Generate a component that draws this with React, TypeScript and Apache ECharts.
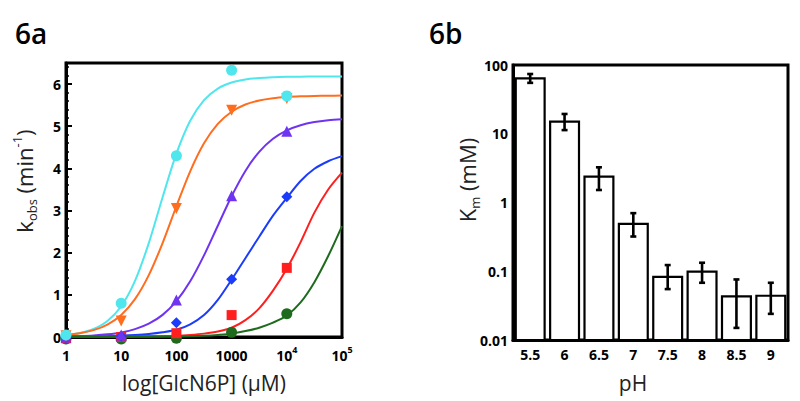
import { useEffect, useRef } from 'react';
import * as echarts from 'echarts';

// ---------- Panel 6a data ----------
const xTickValues = [1, 10, 100, 1000, 10000, 100000];
const xTickBase = ['1', '10', '100', '1000', '10', '10'];
const xTickSup = ['', '', '', '', '4', '5'];
const yTicksA = [0, 1, 2, 3, 4, 5, 6];

// x positions of the fitted curves (quarter decades)
const curveX = [1, 1.778, 3.162, 5.623, 10, 17.78, 31.62, 56.23, 100, 177.8, 316.2, 562.3, 1000, 1778, 3162, 5623, 10000, 17783, 31623, 56234, 100000];
const cyanCurve = [0.046, 0.094, 0.19, 0.378, 0.729, 1.332, 2.228, 3.316, 4.35, 5.13, 5.619, 5.894, 6.037, 6.11, 6.145, 6.163, 6.172, 6.176, 6.178, 6.179, 6.18];
const orangeCurve = [0.049, 0.089, 0.163, 0.295, 0.523, 0.898, 1.468, 2.229, 3.102, 3.93, 4.594, 5.054, 5.344, 5.515, 5.612, 5.666, 5.695, 5.711, 5.72, 5.724, 5.727];
const purpleCurve = [0.012, 0.021, 0.036, 0.063, 0.108, 0.186, 0.315, 0.525, 0.85, 1.321, 1.936, 2.64, 3.339, 3.94, 4.393, 4.703, 4.903, 5.025, 5.098, 5.141, 5.166];
const blueCurve = [0.005, 0.007, 0.01, 0.017, 0.028, 0.045, 0.07, 0.11, 0.17, 0.3, 0.52, 0.88, 1.36, 1.87, 2.38, 2.88, 3.3, 3.7, 3.99, 4.17, 4.29];
const redCurve = [0.001, 0.002, 0.003, 0.004, 0.006, 0.009, 0.013, 0.02, 0.03, 0.05, 0.08, 0.13, 0.22, 0.4, 0.68, 1.1, 1.62, 2.25, 2.95, 3.5, 3.9];
const greenCurve = [0, 0, 0.001, 0.002, 0.002, 0.003, 0.005, 0.007, 0.01, 0.018, 0.03, 0.05, 0.08, 0.14, 0.22, 0.34, 0.51, 0.82, 1.3, 1.92, 2.63];

// measured points
const pointX = [1, 10, 100, 1000, 10000];
const cyanPts = [0.05, 0.8, 4.3, 6.33, 5.72];
const orangePts = [0.03, 0.38, 3.05, 5.38, 5.66];
const purplePts = [0.0, 0.05, 0.88, 3.35, 4.88];
const bluePts = [-0.02, 0.02, 0.34, 1.37, 3.33];
const redPts = [-0.03, 0.0, 0.09, 0.52, 1.64];
const greenPts = [-0.05, -0.05, -0.03, 0.11, 0.55];

// ---------- Panel 6b data ----------
const phLabels = ['5.5', '6', '6.5', '7', '7.5', '8', '8.5', '9'];
const kmValues = [64, 15, 2.38, 0.49, 0.083, 0.099, 0.043, 0.044];
const kmLow = [55, 11.3, 1.52, 0.32, 0.055, 0.068, 0.015, 0.024];
const kmHigh = [74, 19.4, 3.25, 0.7, 0.123, 0.133, 0.076, 0.068];
const yTickLabelsB = ['0.01', '0.1', '1', '10', '100'];

const COLORS = {
  cyan: '#4fe6ee',
  orange: '#ff6d1f',
  purple: '#6f33f2',
  blue: '#1c3cfb',
  red: '#ff1f1f',
  green: '#1e6b1e',
};

const TICK_FONT = 'Open Sans';

function App() {
  const ref = useRef<HTMLDivElement>(null);

  useEffect(() => {
    if (!ref.current) return;
    const chart = echarts.init(ref.current, null, { renderer: 'svg' });

    const curve = (name: string, ys: number[], color: string) => ({
      name,
      type: 'line',
      xAxisIndex: 0,
      yAxisIndex: 0,
      data: curveX.map((x, i) => [x, ys[i]]),
      smooth: 0.3,
      showSymbol: false,
      symbol: 'none',
      lineStyle: { color, width: 2 },
      silent: true,
      z: 2,
    });

    const marks = (name: string, ys: number[], color: string, symbol: string, size: number, rotate = 0) => ({
      name,
      type: 'scatter',
      xAxisIndex: 0,
      yAxisIndex: 0,
      data: pointX.map((x, i) => [x, ys[i]]),
      symbol,
      symbolSize: size,
      symbolRotate: rotate,
      itemStyle: { color, opacity: 1 },
      clip: false,
      z: 3,
    });

    const supRich = {
      base: { fontFamily: TICK_FONT, fontWeight: 'bold', fontSize: 14, lineHeight: 20, verticalAlign: 'middle', color: '#000' },
      s: { fontFamily: TICK_FONT, fontWeight: 'bold', fontSize: 9, lineHeight: 9, verticalAlign: 'top', color: '#000' },
    };

    const option: any = {
      animation: false,
      backgroundColor: '#fff',
      grid: [
        { left: 66, top: 63, width: 276, height: 274, show: true, borderColor: '#000', borderWidth: 3, containLabel: false },
        { left: 513, top: 65, width: 275, height: 275, show: true, borderColor: '#000', borderWidth: 3, containLabel: false },
      ],
      xAxis: [
        {
          type: 'log',
          gridIndex: 0,
          logBase: 10,
          min: 1,
          max: 100000,
          axisLine: { show: true, lineStyle: { color: '#000', width: 3 } },
          axisTick: { show: false },
          splitLine: { show: false },
          axisLabel: {
            margin: 8,
            formatter: (v: number) => {
              const idx = xTickValues.findIndex((t) => Math.abs(Math.log10(t) - Math.log10(v)) < 1e-6);
              if (idx < 0) return '';
              return '{base|' + xTickBase[idx] + '}' + (xTickSup[idx] ? '{s|' + xTickSup[idx] + '}' : '');
            },
            rich: supRich,
          },
        },
        {
          type: 'category',
          gridIndex: 1,
          data: phLabels,
          axisLine: { show: true, lineStyle: { color: '#000', width: 3 } },
          axisTick: { show: false },
          axisLabel: { margin: 7, fontFamily: TICK_FONT, fontWeight: 'bold', fontSize: 14, color: '#000' },
          splitLine: { show: false },
        },
      ],
      yAxis: [
        {
          type: 'value',
          gridIndex: 0,
          min: 0,
          max: 6.5,
          interval: 1,
          axisLine: { show: true, lineStyle: { color: '#000', width: 3 } },
          axisTick: { show: true, inside: true, length: 6, lineStyle: { color: '#000', width: 2 } },
          minorTick: { show: true, splitNumber: 5, length: 3, lineStyle: { color: '#000', width: 1.5 } },
          splitLine: { show: false },
          axisLabel: {
            margin: 5,
            showMaxLabel: false,
            fontFamily: TICK_FONT,
            fontWeight: 'bold',
            fontSize: 14,
            color: '#000',
            formatter: (v: number) => {
              const idx = yTicksA.indexOf(Math.round(v));
              return idx >= 0 && Math.abs(v - Math.round(v)) < 1e-6 ? String(yTicksA[idx]) : '';
            },
          },
        },
        {
          type: 'log',
          gridIndex: 1,
          logBase: 10,
          min: 0.01,
          max: 100,
          axisLine: { show: true, lineStyle: { color: '#000', width: 3 } },
          axisTick: { show: true, inside: true, length: 4, lineStyle: { color: '#000', width: 2 } },
          splitLine: { show: false },
          axisLabel: {
            margin: 5,
            fontFamily: TICK_FONT,
            fontWeight: 'bold',
            fontSize: 14,
            color: '#000',
            formatter: (v: number) => {
              const idx = Math.round(Math.log10(v)) + 2;
              return yTickLabelsB[idx] ?? '';
            },
          },
        },
      ],
      series: [
        curve('cyanFit', cyanCurve, COLORS.cyan),
        curve('orangeFit', orangeCurve, COLORS.orange),
        curve('purpleFit', purpleCurve, COLORS.purple),
        curve('blueFit', blueCurve, COLORS.blue),
        curve('redFit', redCurve, COLORS.red),
        curve('greenFit', greenCurve, COLORS.green),
        marks('green', greenPts, COLORS.green, 'circle', 11),
        marks('red', redPts, COLORS.red, 'rect', 10),
        marks('blue', bluePts, COLORS.blue, 'diamond', 11),
        marks('purple', purplePts, COLORS.purple, 'triangle', 11),
        marks('orange', orangePts, COLORS.orange, 'triangle', 11, 180),
        marks('cyan', cyanPts, COLORS.cyan, 'circle', 11),
        {
          name: 'Km',
          type: 'custom',
          xAxisIndex: 1,
          yAxisIndex: 1,
          data: phLabels.map((_, i) => [i, kmValues[i]]),
          renderItem: (params: any, api: any) => {
            const i = api.value(0);
            const v = api.value(1);
            const top = api.coord([i, v]);
            const base = api.coord([i, 0.01]);
            const step = api.coord([1, 1])[0] - api.coord([0, 1])[0];
            const w = step * 0.84;
            return {
              type: 'rect',
              shape: { x: top[0] - w / 2, y: top[1], width: w, height: base[1] - top[1] },
              style: { fill: '#fff', stroke: '#000', lineWidth: 2.2 },
            };
          },
          z: 2,
        },
        {
          name: 'KmErr',
          type: 'custom',
          xAxisIndex: 1,
          yAxisIndex: 1,
          data: phLabels.map((_, i) => [i, kmLow[i], kmHigh[i]]),
          renderItem: (params: any, api: any) => {
            const i = api.value(0);
            const lo = api.coord([i, api.value(1)]);
            const hi = api.coord([i, api.value(2)]);
            const hw = 3;
            const st = { stroke: '#000', lineWidth: 2.6 };
            return {
              type: 'group',
              children: [
                { type: 'line', shape: { x1: lo[0], y1: lo[1], x2: hi[0], y2: hi[1] }, style: st },
                { type: 'line', shape: { x1: lo[0] - hw, y1: lo[1], x2: lo[0] + hw, y2: lo[1] }, style: st },
                { type: 'line', shape: { x1: hi[0] - hw, y1: hi[1], x2: hi[0] + hw, y2: hi[1] }, style: st },
              ],
            };
          },
          z: 3,
        },
      ],
      graphic: [
        {
          type: 'text',
          left: 15,
          top: 19,
          style: { text: '6a', fontFamily: 'Open Sans', fontWeight: 600, fontSize: 28, fill: '#000' },
        },
        {
          type: 'text',
          left: 429,
          top: 19,
          style: { text: '6b', fontFamily: 'Open Sans', fontWeight: 600, fontSize: 28, fill: '#000' },
        },
        {
          type: 'text',
          x: 204,
          y: 383,
          style: { text: 'log[GlcN6P] (μM)', fontFamily: 'Open Sans', fontSize: 21, fill: '#222', align: 'center', verticalAlign: 'middle' },
        },
        {
          type: 'text',
          x: 633,
          y: 383,
          style: { text: 'pH', fontFamily: 'Open Sans', fontSize: 21, fill: '#222', align: 'center', verticalAlign: 'middle' },
        },
        {
          type: 'text',
          x: 24,
          y: 181,
          rotation: Math.PI / 2,
          style: {
            text: '{b|k}{sub|obs}{b| (min}{sup|-1}{b|)}',
            align: 'center',
            verticalAlign: 'middle',
            rich: {
              b: { fontFamily: 'Open Sans', fontSize: 22, lineHeight: 28, verticalAlign: 'middle', fill: '#222' },
              sub: { fontFamily: 'Open Sans', fontSize: 13, lineHeight: 14, verticalAlign: 'bottom', fill: '#222' },
              sup: { fontFamily: 'Open Sans', fontSize: 13, lineHeight: 14, verticalAlign: 'top', fill: '#222' },
            },
          },
        },
        {
          type: 'text',
          x: 467,
          y: 180,
          rotation: Math.PI / 2,
          style: {
            text: '{b|K}{sub|m}{b| (mM)}',
            align: 'center',
            verticalAlign: 'middle',
            rich: {
              b: { fontFamily: 'Open Sans', fontSize: 22, lineHeight: 28, verticalAlign: 'middle', fill: '#222' },
              sub: { fontFamily: 'Open Sans', fontSize: 13, lineHeight: 14, verticalAlign: 'bottom', fill: '#222' },
            },
          },
        },
      ],
    };

    chart.setOption(option);
    return () => chart.dispose();
  }, []);

  return <div ref={ref} style={{ position: 'absolute', left: 0, top: 0, width: 800, height: 401 }} />;
}

export default App;
